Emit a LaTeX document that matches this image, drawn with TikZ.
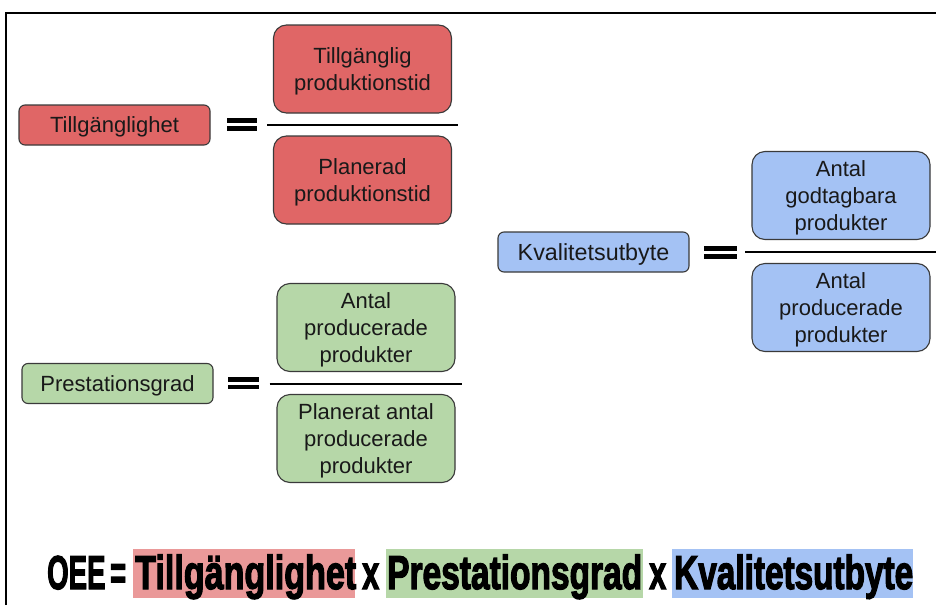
\documentclass[tikz,border=0pt]{standalone}
\usepackage{fontspec}
\setmainfont{Liberation Sans}
\newfontfamily\heavyfont[FakeBold=3]{Liberation Sans Bold}
\usepackage{graphicx}

\definecolor{boxred}{HTML}{E06666}
\definecolor{boxgreen}{HTML}{B6D7A8}
\definecolor{boxblue}{HTML}{A4C2F4}
\definecolor{hlred}{HTML}{EA9999}
\definecolor{hlgreen}{HTML}{B6D7A8}
\definecolor{hlblue}{HTML}{A4C2F4}
\definecolor{edge}{HTML}{3A3A3A}

\tikzset{
  lbl/.style={draw=edge, line width=1.1pt, rounded corners=6pt, inner sep=0pt,
    minimum width=191pt, minimum height=40pt, font=\fontsize{22}{27}\selectfont,
    text depth=0pt, text=black!90},
  termbox/.style={draw=edge, line width=1.1pt, rounded corners=13pt, inner sep=0pt,
    minimum width=178pt, minimum height=88pt, align=center, text depth=0pt,
    font=\fontsize{22}{27}\selectfont, text=black!90},
  fracline/.style={line width=2pt, black},
  eqbar/.style={fill=black},
  hlbox/.style={inner sep=0pt, minimum height=49pt, anchor=north west},
  oee/.style={inner sep=0pt, anchor=base west, font=\heavyfont\fontsize{47.5}{50}\selectfont}
}

\begin{document}
\begin{tikzpicture}[x=1pt, y=-1pt]
\useasboundingbox (0,0) rectangle (936,605);
\fill[white] (0,0) rectangle (936,605);

% frame
\draw[line width=2pt] (6,605) -- (6,12.5) -- (936,12.5);

% ---- Tillgänglighet ----
\node[lbl, fill=boxred] (lblT) at (114.5,125) {Tillgänglighet};
\node[termbox, fill=boxred] (numT) at (362.5,69) {Tillgänglig\\produktionstid};
\node[termbox, fill=boxred] (denT) at (362.5,180) {Planerad\\produktionstid};
\coordinate (fT) at (362.5,124.5);
\draw[fracline] ([xshift=-95.5pt]fT) -- ([xshift=95.5pt]fT);
\fill[eqbar] (227,118) rectangle (257,123);
\fill[eqbar] (227,126) rectangle (257,131);

% ---- Prestationsgrad ----
\node[lbl, fill=boxgreen] (lblP) at (117.5,383.5) {Prestationsgrad};
\node[termbox, fill=boxgreen] (numP) at (366,327.5) {Antal\\producerade\\produkter};
\node[termbox, fill=boxgreen] (denP) at (366,438.5) {Planerat antal\\producerade\\produkter};
\coordinate (fP) at (365.5,383.5);
\draw[fracline] ([xshift=-96pt]fP) -- ([xshift=96pt]fP);
\fill[eqbar] (228,377) rectangle (259,381.5);
\fill[eqbar] (228,384.5) rectangle (259,389);

% ---- Kvalitetsutbyte ----
\node[lbl, fill=boxblue, font=\fontsize{23.3}{27}\selectfont] (lblK) at (593.5,252) {Kvalitetsutbyte};
\node[termbox, fill=boxblue] (numK) at (841,195.5) {Antal\\godtagbara\\produkter};
\node[termbox, fill=boxblue] (denK) at (841,307.5) {Antal\\producerade\\produkter};
\coordinate (fK) at (841,252);
\draw[fracline] ([xshift=-96pt]fK) -- ([xshift=97pt]fK);
\fill[eqbar] (704,246) rectangle (737,251);
\fill[eqbar] (704,254) rectangle (737,259);

% ---- OEE formula ----
\node[hlbox, fill=hlred, minimum width=222pt] (hlT) at (133,549) {};
\node[hlbox, fill=hlgreen, minimum width=257pt] (hlP) at (386,549) {};
\node[hlbox, fill=hlblue, minimum width=241pt] (hlK) at (672,549) {};

\node[oee] (wO) at (47,589) {\resizebox{79pt}{\height}{OEE\,=}};
\node[oee] (wT) at (135,589) {\resizebox{221pt}{\height}{Tillgänglighet}};
\node[oee] (x1) at (362,589) {\resizebox{17pt}{\height}{x}};
\node[oee] (wP) at (387,589) {\resizebox{255pt}{\height}{Prestationsgrad}};
\node[oee] (x2) at (649,589) {\resizebox{17pt}{\height}{x}};
\node[oee] (wK) at (674,589) {\resizebox{239pt}{\height}{Kvalitetsutbyte}};
\end{tikzpicture}
\end{document}
